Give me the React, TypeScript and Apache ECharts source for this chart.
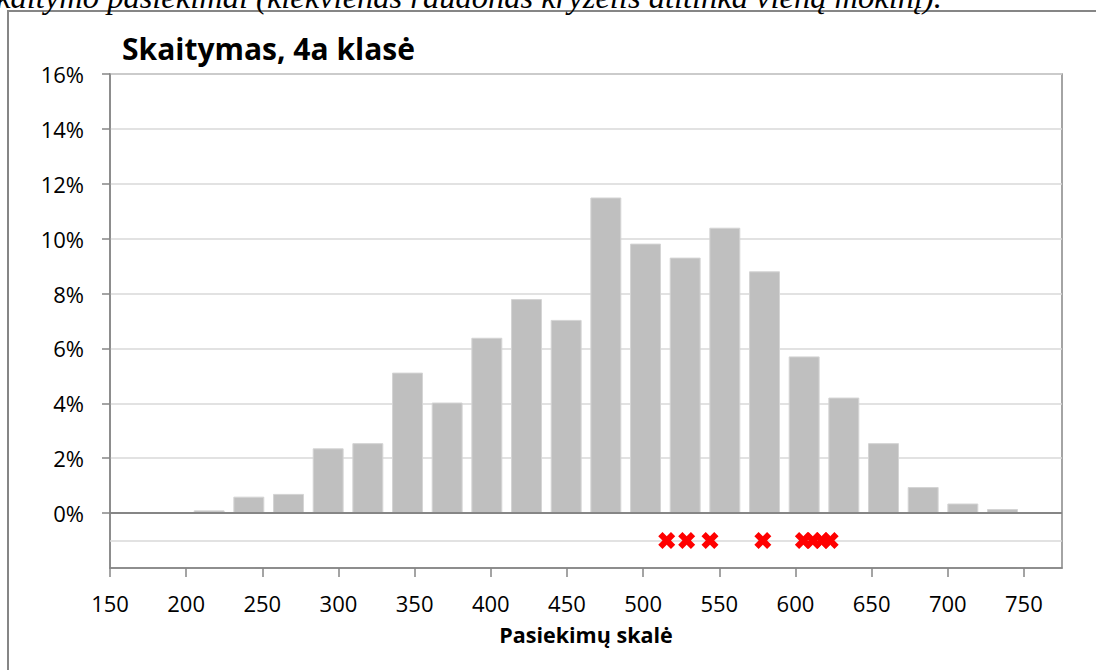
import React, { useEffect, useRef } from "react";
import * as echarts from "echarts";

const binLabels = [
  "b0", "b1", "b2", "b3", "b4", "b5", "b6", "b7", "b8", "b9", "b10", "b11",
  "b12", "b13", "b14", "b15", "b16", "b17", "b18", "b19", "b20", "b21", "b22", "b23",
];
const barValues = [
  null, null, 0.1, 0.6, 0.7, 2.36, 2.55, 5.12, 4.03, 6.39, 7.8, 7.04,
  11.5, 9.82, 9.31, 10.4, 8.81, 5.71, 4.21, 2.55, 0.95, 0.35, 0.15, null,
];
const studentScores = [515.5, 528.6, 543.9, 578.6, 605.2, 611.4, 617.3, 622.8];
const studentRow = -1;
const xTicks = [150, 200, 250, 300, 350, 400, 450, 500, 550, 600, 650, 700, 750];
const yTicks = [0, 2, 4, 6, 8, 10, 12, 14, 16];

const titleText = "Skaitymas, 4a klasė";
const xName = "Pasiekimų skalė";
const captionText = "Skaitymo pasiekimai (kiekvienas raudonas kryželis atitinka vieną mokinį).";

const crossPath =
  "path://M4,0 L8,4 L12,0 L16,4 L12,8 L16,12 L12,16 L8,12 L4,16 L0,12 L4,8 L0,4 Z";

export default function App() {
  const ref = useRef<HTMLDivElement>(null);

  useEffect(() => {
    if (!ref.current) return;
    const chart = echarts.init(ref.current, null, { renderer: "svg" });
    const axisGray = "#868686";
    const gridGray = "#D9D9D9";
    const font = "'Open Sans', 'Noto Sans', sans-serif";

    chart.setOption({
      animation: false,
      backgroundColor: "#ffffff",
      textStyle: { fontFamily: font },
      title: {
        text: titleText,
        left: 117,
        top: 28,
        textStyle: { fontSize: 30, fontWeight: "bold", color: "#000", fontFamily: font },
      },
      graphic: [
        {
          type: "rect",
          shape: { x: 8, y: 11, width: 1200, height: 800 },
          style: { fill: "none", stroke: axisGray, lineWidth: 2 },
          silent: true,
          z: 0,
        },
        {
          type: "text",
          x: 942,
          y: 13,
          style: {
            text: captionText,
            fill: "#000",
            font: "italic 32.5px 'Liberation Serif', 'DejaVu Serif', serif",
            textAlign: "right",
            textVerticalAlign: "bottom",
          },
          silent: true,
        },
      ],
      grid: {
        left: 110,
        right: 34,
        top: 74,
        bottom: 102,
        show: true,
        borderColor: axisGray,
        borderWidth: 1.5,
        backgroundColor: "transparent",
      },
      xAxis: [
        {
          type: "category",
          data: binLabels,
          show: false,
          position: "top",
          boundaryGap: true,
        },
        {
          type: "value",
          min: 150,
          max: 775,
          interval: 50,
          position: "bottom",
          axisLine: { show: true, onZero: false, lineStyle: { color: axisGray, width: 1.5 } },
          axisTick: {
            show: true,
            length: 9,
            customValues: xTicks,
            lineStyle: { color: axisGray, width: 1.5 },
          },
          splitLine: { show: false },
          axisLabel: {
            customValues: xTicks,
            fontSize: 22,
            color: "#000",
            margin: 24,
            fontFamily: font,
          },
          name: xName,
          nameLocation: "middle",
          nameGap: 55,
          nameTextStyle: { fontSize: 21.5, fontWeight: "bold", color: "#000", fontFamily: font },
        },
      ],
      yAxis: {
        type: "value",
        min: -2,
        max: 16,
        interval: 2,
        axisLine: { show: true, lineStyle: { color: axisGray, width: 1.5 } },
        axisTick: {
          show: true,
          length: 8,
          customValues: yTicks,
          lineStyle: { color: axisGray, width: 1.5 },
        },
        axisLabel: {
          customValues: yTicks,
          formatter: (v: number) => `${v}%`,
          fontSize: 22,
          color: "#000",
          margin: 26,
          fontFamily: font,
        },
        splitLine: { show: true, lineStyle: { color: gridGray, width: 1.5 } },
      },
      series: [
        {
          type: "bar",
          xAxisIndex: 0,
          yAxisIndex: 0,
          data: barValues,
          barCategoryGap: "22%",
          itemStyle: { color: "#BFBFBF", borderColor: "#D4D4D4", borderWidth: 1 },
          silent: true,
          z: 2,
          markLine: {
            silent: true,
            symbol: "none",
            label: { show: false },
            data: [
              { yAxis: studentRow, lineStyle: { color: gridGray, width: 1.5, type: "solid" } },
              { yAxis: 0, lineStyle: { color: axisGray, width: 2, type: "solid" } },
            ],
          },
        },
        {
          type: "scatter",
          xAxisIndex: 1,
          yAxisIndex: 0,
          data: studentScores.map((s) => [s, studentRow]),
          symbol: crossPath,
          symbolSize: 17,
          itemStyle: { color: "#FF0000", opacity: 1 },
          silent: true,
          z: 5,
        },
      ],
    });

    return () => chart.dispose();
  }, []);

  return (
    <div
      ref={ref}
      style={{ position: "fixed", left: 0, top: 0, width: 1096, height: 670 }}
    />
  );
}
